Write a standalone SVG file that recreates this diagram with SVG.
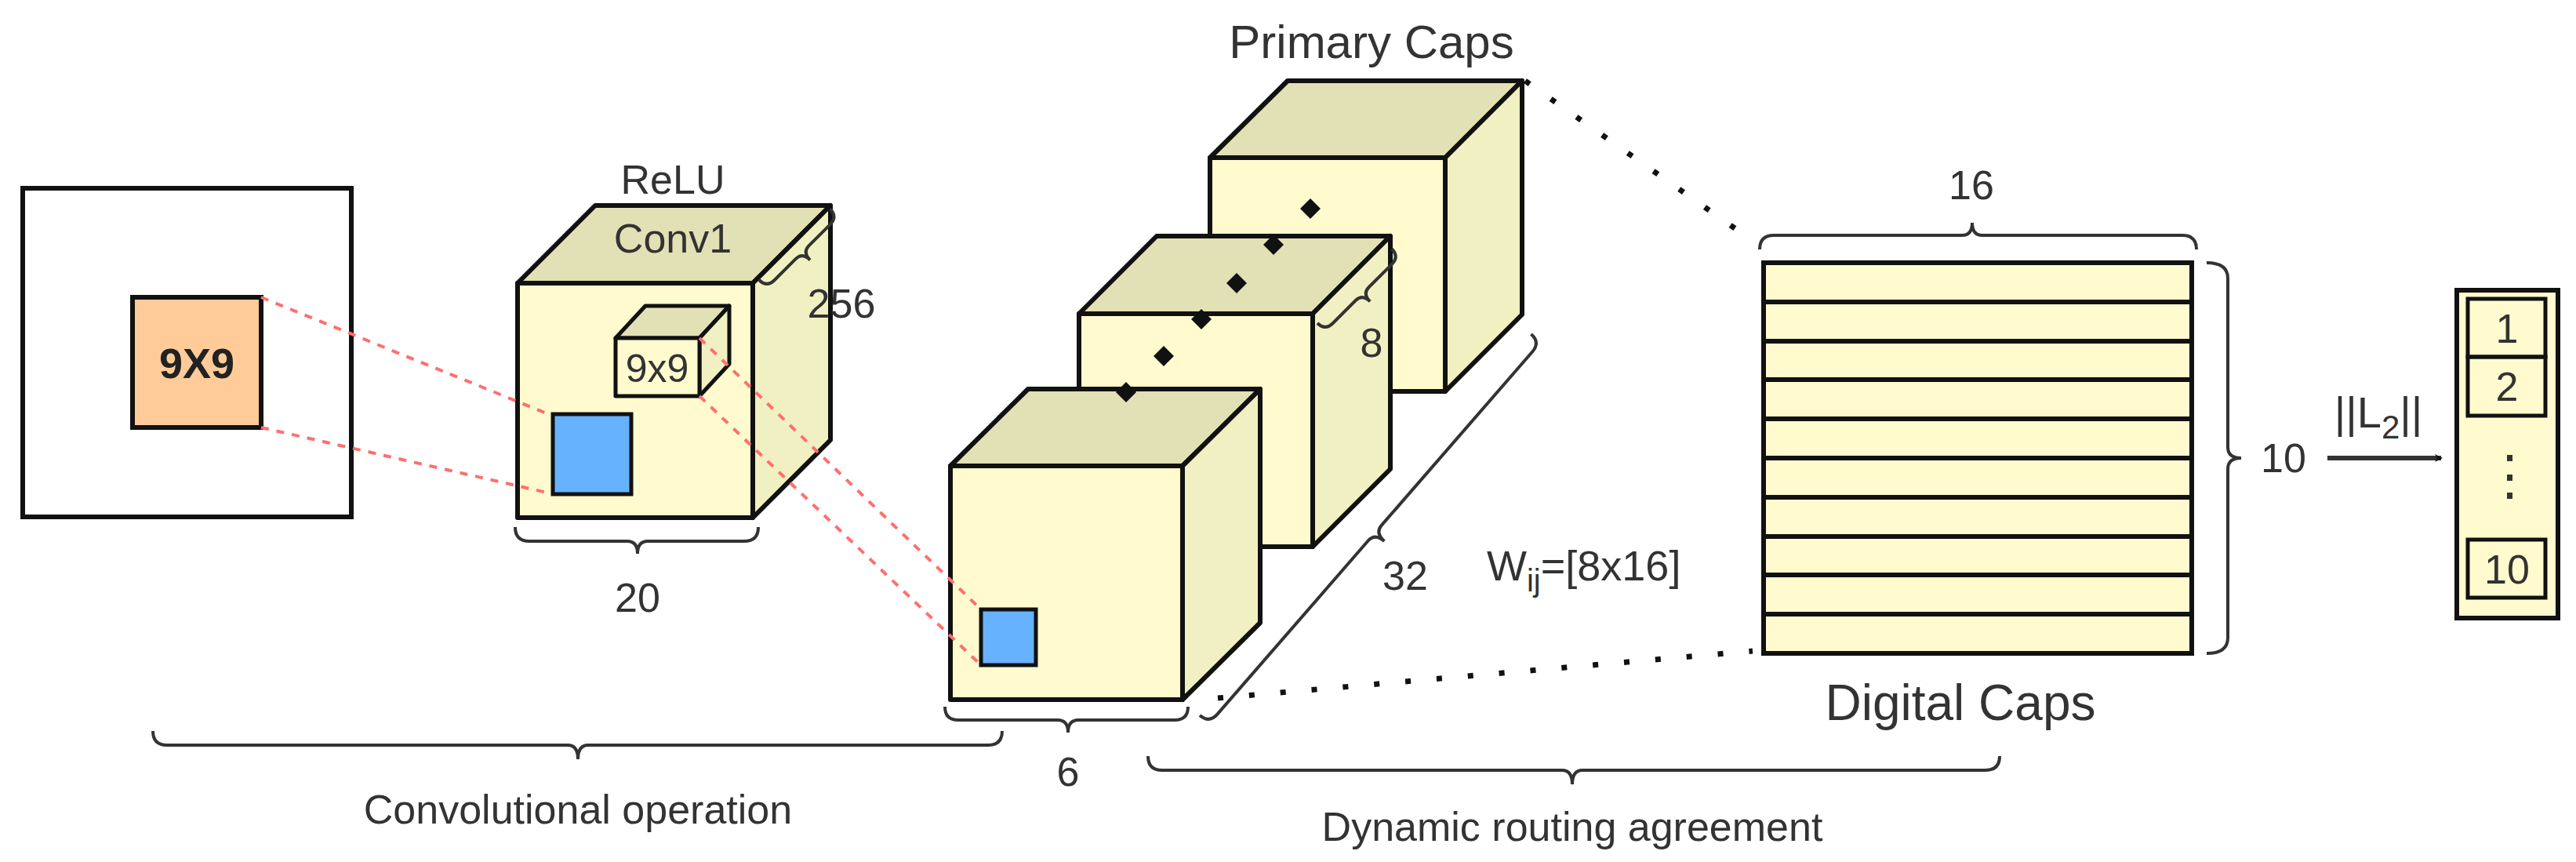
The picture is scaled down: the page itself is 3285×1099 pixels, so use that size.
<svg xmlns="http://www.w3.org/2000/svg" width="3285" height="1099" viewBox="0 0 3285 1099">
<style>
text{font-family:"Liberation Sans",Arial,sans-serif;fill:#333;}
.f{fill:#FFFBCF;stroke:#111;stroke-width:6;stroke-linejoin:round}
.t{fill:#E2E0B5;stroke:#111;stroke-width:6;stroke-linejoin:round}
.s{fill:#F1F0C2;stroke:#111;stroke-width:6;stroke-linejoin:round}
.br{fill:none;stroke:#333;stroke-width:4}
.red{stroke:#FF6F6F;stroke-width:4;stroke-dasharray:10 10;fill:none}
.dot{stroke:#111;stroke-width:7;stroke-dasharray:7 33;fill:none}
.lab{font-size:52px;text-anchor:middle}
</style>
<defs>
<marker id="ah" markerWidth="10" markerHeight="10" refX="8" refY="5" orient="auto" markerUnits="userSpaceOnUse" viewBox="0 0 10 10"><path d="M0,0 L10,5 L0,10 L3,5 z" fill="#111"/></marker>
</defs>

<g id="input">
<rect x="29" y="240" width="419" height="419" fill="#fff" stroke="#111" stroke-width="6"/>
<rect x="169" y="379" width="164" height="166" fill="#FFCC99" stroke="#111" stroke-width="6"/>
<text x="251" y="482" font-size="54" font-weight="bold" text-anchor="middle" style="fill:#222">9X9</text>
</g>

<g id="conv1">
<polygon class="t" points="660,361 759,262 1059,262 960,361"/>
<polygon class="s" points="960,361 1059,262 1059,561 960,660"/>
<rect class="f" x="660" y="361" width="300" height="299"/>
<polygon class="t" points="785,431 823,390 930,390 892,431" style="stroke-width:5"/>
<polygon class="s" points="892,431 930,390 930,464 892,505" style="stroke-width:5"/>
<rect class="f" x="785" y="431" width="107" height="74" style="stroke-width:5"/>
<text x="838" y="487" font-size="50" text-anchor="middle">9x9</text>
<rect x="705" y="528" width="100" height="102" fill="#66B2FF" stroke="#111" stroke-width="5"/>
<text x="858" y="247" class="lab">ReLU</text>
<text x="858" y="322" class="lab">Conv1</text>
<text x="1073" y="405" class="lab">256</text>
<text x="813" y="780" class="lab">20</text>
</g>

<g id="primary-caps">
<g id="cube3">
<polygon class="t" points="1543,201 1642,103 1941,103 1843,201"/>
<polygon class="s" points="1843,201 1941,103 1941,401 1843,499"/>
<rect class="f" x="1543" y="201" width="300" height="298"/>
</g>
<g id="cube2">
<polygon class="t" points="1376,400 1475,301 1773,301 1674,400"/>
<polygon class="s" points="1674,400 1773,301 1773,598 1674,697"/>
<rect class="f" x="1376" y="400" width="298" height="297"/>
</g>
<g id="cube1">
<polygon class="t" points="1212,594 1311,496 1607,496 1508,594"/>
<polygon class="s" points="1508,594 1607,496 1607,794 1508,892"/>
<rect class="f" x="1212" y="594" width="296" height="298"/>
<rect x="1251" y="777" width="70" height="71" fill="#66B2FF" stroke="#111" stroke-width="5"/>
</g>
<g fill="#111">
<path d="M1671,253 l13,13 l-13,13 l-13,-13 z"/>
<path d="M1624,299 l13,13 l-13,13 l-13,-13 z"/>
<path d="M1577,348 l13,13 l-13,13 l-13,-13 z"/>
<path d="M1532,394 l13,13 l-13,13 l-13,-13 z"/>
<path d="M1484,441 l13,13 l-13,13 l-13,-13 z"/>
<path d="M1436,487 l13,13 l-13,13 l-13,-13 z"/>
</g>
<text x="1749" y="74" style="font-size:60px;text-anchor:middle">Primary Caps</text>
<text x="1749" y="455" class="lab">8</text>
<text x="1792" y="752" class="lab">32</text>
<text x="1362" y="1002" class="lab">6</text>
<text x="1896" y="740" style="font-size:54px">W<tspan font-size="40" dy="14">ij</tspan><tspan dy="-14">=[8x16]</tspan></text>
</g>

<g id="digital-caps">
<rect x="2249" y="335" width="546" height="498" fill="#FFFBCF" stroke="#111" stroke-width="6"/>
<g stroke="#111" stroke-width="6">
<line x1="2249" y1="385" x2="2795" y2="385"/><line x1="2249" y1="435" x2="2795" y2="435"/>
<line x1="2249" y1="484" x2="2795" y2="484"/><line x1="2249" y1="534" x2="2795" y2="534"/>
<line x1="2249" y1="584" x2="2795" y2="584"/><line x1="2249" y1="634" x2="2795" y2="634"/>
<line x1="2249" y1="684" x2="2795" y2="684"/><line x1="2249" y1="733" x2="2795" y2="733"/>
<line x1="2249" y1="783" x2="2795" y2="783"/>
</g>
<text x="2514" y="254" class="lab">16</text>
<text x="2912" y="602" class="lab">10</text>
<text x="2500" y="918" style="font-size:64px;text-anchor:middle">Digital Caps</text>
</g>

<g id="output">
<rect x="3133" y="370" width="129" height="418" fill="#FFFBCF" stroke="#111" stroke-width="6"/>
<rect x="3147" y="381" width="99" height="74" fill="none" stroke="#111" stroke-width="5"/>
<rect x="3147" y="455" width="99" height="75" fill="none" stroke="#111" stroke-width="5"/>
<rect x="3147" y="688" width="99" height="74" fill="none" stroke="#111" stroke-width="5"/>
<text x="3197" y="437" class="lab">1</text>
<text x="3197" y="511" class="lab">2</text>
<text x="3197" y="744" class="lab">10</text>
<g fill="#333"><rect x="3197" y="580" width="7" height="8"/><rect x="3197" y="605" width="7" height="8"/><rect x="3197" y="628" width="7" height="8"/></g>
<text x="3033" y="545" style="font-size:56px;text-anchor:middle">||L<tspan font-size="42" dy="14">2</tspan><tspan dy="-14">||</tspan></text>
</g>

<g id="connectors">
<line class="red" x1="333" y1="379" x2="702" y2="529"/>
<line class="red" x1="333" y1="545" x2="702" y2="629"/>
<line class="red" x1="892" y1="431" x2="1251" y2="777"/>
<line class="red" x1="892" y1="505" x2="1251" y2="848"/>
<line class="dot" x1="1945" y1="103" x2="2222" y2="298"/>
<line class="dot" x1="1553" y1="890" x2="2235" y2="830"/>
<line x1="2968" y1="584" x2="3113" y2="584" stroke="#333" stroke-width="6" marker-end="url(#ah)"/>
<path class="br" d="M657,672 Q657,690 675,690 L800,690 Q813,690 813,706 Q813,690 826,690 L949,690 Q967,690 967,672"/>
<path class="br" d="M1205,901 Q1205,918 1222,918 L1349,918 Q1362,918 1362,934 Q1362,918 1375,918 L1498,918 Q1515,918 1515,901"/>
<path class="br" d="M195,932 Q195,950 213,950 L724,950 Q737,950 737,968 Q737,950 750,950 L1260,950 Q1278,950 1278,932"/>
<path class="br" d="M1464,964 Q1464,982 1482,982 L1992,982 Q2005,982 2005,1000 Q2005,982 2018,982 L2532,982 Q2550,982 2550,964"/>
<path class="br" d="M2244,318 Q2244,300 2262,300 L2502,300 Q2515,300 2515,284 Q2515,300 2528,300 L2783,300 Q2801,300 2801,318"/>
<path class="br" d="M2814,335 Q2841,335 2841,355 L2841,570 Q2841,584 2858,584 Q2841,584 2841,598 L2841,813 Q2841,833 2814,833"/>
<path class="br" transform="translate(1530,912) rotate(-49)" d="M0,0 Q0,16 16,16 L309,16 Q322,16 322,32 Q322,16 335,16 L628,16 Q644,16 644,0"/>
<path class="br" transform="translate(1680,412) rotate(-45)" d="M0,0 Q0,14 14,14 L55,14 Q67,14 67,28 Q67,14 79,14 L120,14 Q134,14 134,0"/>
<path class="br" transform="translate(968,357) rotate(-45)" d="M0,0 Q0,14 14,14 L52,14 Q64,14 64,28 Q64,14 76,14 L114,14 Q128,14 128,0"/>
</g>
<text x="737" y="1050" style="font-size:52px;text-anchor:middle">Convolutional operation</text>
<text x="2005" y="1072" style="font-size:52px;text-anchor:middle">Dynamic routing agreement</text>
</svg>
